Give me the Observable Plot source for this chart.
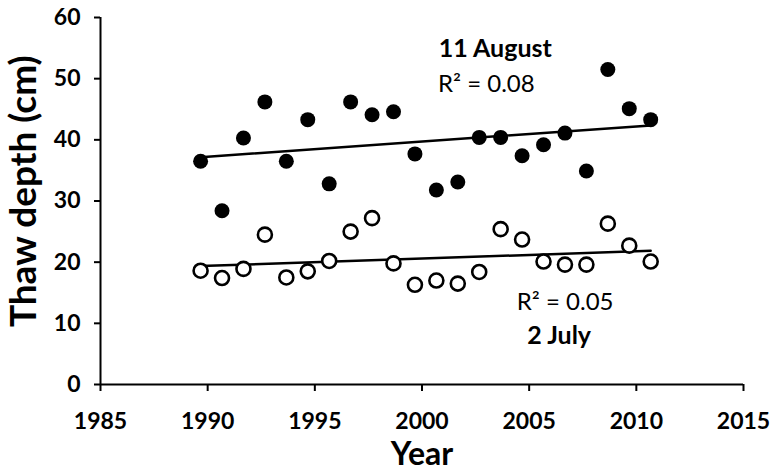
<!DOCTYPE html>
<html>
<head>
<meta charset="utf-8">
<script src="https://cdn.jsdelivr.net/npm/d3@7"></script>
<script src="https://cdn.jsdelivr.net/npm/@observablehq/plot@0.6"></script>
<style>
  html, body { margin: 0; padding: 0; background: #fff; }
  svg { display: block; }
</style>
</head>
<body>
<div id="chart"></div>
<script>
// Year positions as plotted
const years = [1989.67, 1990.67, 1991.67, 1992.67, 1993.67, 1994.67, 1995.67, 1996.67, 1997.67, 1998.67, 1999.67,
               2000.67, 2001.67, 2002.67, 2003.67, 2004.67, 2005.67, 2006.67, 2007.67, 2008.67, 2009.67, 2010.67];
// 11 August thaw depth (filled)
const august = [36.5, 28.4, 40.3, 46.2, 36.5, 43.3, 32.8, 46.2, 44.1, 44.6, 37.7,
                31.8, 33.1, 40.4, 40.4, 37.4, 39.2, 41.1, 34.9, 51.5, 45.1, 43.3];
// 2 July thaw depth (open)
const july = [18.6, 17.4, 18.9, 24.5, 17.5, 18.5, 20.2, 25.0, 27.2, 19.8, 16.3,
              17.0, 16.5, 18.4, 25.4, 23.7, 20.1, 19.6, 19.6, 26.3, 22.7, 20.1];
const xTicks = [1985, 1990, 1995, 2000, 2005, 2010, 2015];
const yTicks = [0, 10, 20, 30, 40, 50, 60];
const boldLabels = [
  {x: 2003.42, y: 54.85, text: "11 August"},
  {x: 2006.4, y: 7.9, text: "2 July"}
];
const plainLabels = [
  {x: 2003.0, y: 49.0, text: "R² = 0.08"},
  {x: 2006.68, y: 13.4, text: "R² = 0.05"}
];

const augData = years.map((x, i) => ({x, y: august[i]}));
const julData = years.map((x, i) => ({x, y: july[i]}));

const font = "Lato, 'Open Sans', sans-serif";

const chart = Plot.plot({
  width: 770,
  height: 472,
  marginLeft: 100,
  marginRight: 27,
  marginTop: 17,
  marginBottom: 88,
  style: {fontFamily: font, color: "#000", background: "#fff"},
  x: {domain: [1985, 2015]},
  y: {domain: [0, 60]},
  marks: [
    Plot.axisX({ticks: xTicks, tickFormat: d => String(d), tickSize: 7, tickPadding: 21, strokeWidth: 2,
                fontSize: 23, fontWeight: "bold", label: null}),
    Plot.axisY({ticks: yTicks, tickSize: 6, tickPadding: 14, strokeWidth: 2,
                fontSize: 23, fontWeight: "bold", label: null}),
    Plot.ruleX([1985], {stroke: "#000", strokeWidth: 2}),
    Plot.ruleY([0], {stroke: "#000", strokeWidth: 2}),
    Plot.linearRegressionY(augData, {x: "x", y: "y", ci: 0, stroke: "#000", strokeWidth: 2.5}),
    Plot.linearRegressionY(julData, {x: "x", y: "y", ci: 0, stroke: "#000", strokeWidth: 2.5}),
    Plot.dot(augData, {x: "x", y: "y", r: 7.5, fill: "#000", stroke: "none"}),
    Plot.dot(julData, {x: "x", y: "y", r: 7, fill: "#fff", stroke: "#000", strokeWidth: 2.6}),
    Plot.text(boldLabels, {x: "x", y: "y", text: "text", fontWeight: "bold", fontSize: 25, fill: "#000"}),
    Plot.text(plainLabels, {x: "x", y: "y", text: "text", fontSize: 24, fill: "#000"}),
    Plot.text(["Thaw depth (cm)"], {frameAnchor: "left", y: () => 31.6, dx: -76, rotate: -90, textAnchor: "middle",
                                    fontSize: 37, fontWeight: "bold", fill: "#000"}),
    Plot.text(["Year"], {frameAnchor: "bottom", dy: 80, fontSize: 32, fontWeight: "bold", fill: "#000"})
  ]
});
document.getElementById("chart").appendChild(chart);
</script>
</body>
</html>
